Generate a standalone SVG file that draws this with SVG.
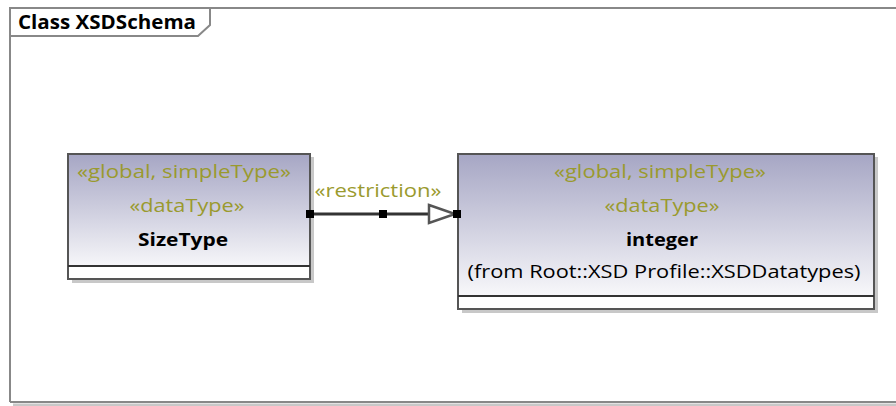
<svg xmlns="http://www.w3.org/2000/svg" width="896" height="406" viewBox="0 0 896 406">
<style>
.st{font-family:"Open Sans","Noto Sans",sans-serif;font-size:18px;fill:#9a9a2e;text-anchor:middle}
.nm{font-family:"Open Sans","Noto Sans",sans-serif;font-size:18px;font-weight:bold;fill:#000;text-anchor:middle}
.tx{font-family:"Open Sans","Noto Sans",sans-serif;font-size:18px;fill:#000;text-anchor:middle}
.box{stroke:#555;stroke-width:2}
.shadow{fill:#c8c8c8}
.h{fill:#000}
</style>
<defs>
<linearGradient id="g" x1="0" y1="0" x2="0" y2="1">
<stop offset="0" stop-color="#a6a6c4"/>
<stop offset="1" stop-color="#ffffff"/>
</linearGradient>
</defs>
<rect width="896" height="406" fill="#fff"/>
<g id="frame">
<path d="M13 405 L899 405" stroke="#c8c8c8" stroke-width="3" fill="none"/>
<path d="M10 402 L10 8 L899 8" stroke="#888" stroke-width="2" fill="none"/>
<path d="M10 402 L899 402" stroke="#888" stroke-width="2" fill="none"/>
<path d="M10 36 L198 36 L210 25 L210 8" stroke="#888" stroke-width="2" fill="none"/>
<text x="18" y="29" textLength="178" lengthAdjust="spacingAndGlyphs" style="font-family:'Open Sans','Noto Sans',sans-serif;font-size:19px;font-weight:bold;fill:#000">Class XSDSchema</text>
</g>
<g id="SizeType">
<rect class="shadow" x="72" y="157" width="242" height="126"/>
<rect class="box" x="68" y="154" width="242" height="125" fill="url(#g)"/>
<rect x="69" y="266" width="240" height="12" fill="#fff"/>
<line x1="68" y1="266" x2="310" y2="266" stroke="#333" stroke-width="2"/>
<text class="st" x="184" y="178" textLength="214" lengthAdjust="spacingAndGlyphs">«global, simpleType»</text>
<text class="st" x="187" y="212" textLength="115" lengthAdjust="spacingAndGlyphs">«dataType»</text>
<text class="nm" x="183" y="246" textLength="90" lengthAdjust="spacingAndGlyphs">SizeType</text>
</g>
<g id="integer">
<rect class="shadow" x="462" y="157" width="416" height="156"/>
<rect class="box" x="458" y="154" width="416" height="155" fill="url(#g)"/>
<rect x="459" y="296" width="414" height="12" fill="#fff"/>
<line x1="458" y1="296" x2="874" y2="296" stroke="#333" stroke-width="2"/>
<text class="st" x="660" y="178" textLength="212" lengthAdjust="spacingAndGlyphs">«global, simpleType»</text>
<text class="st" x="662" y="212" textLength="115" lengthAdjust="spacingAndGlyphs">«dataType»</text>
<text class="nm" x="662" y="246" textLength="72" lengthAdjust="spacingAndGlyphs">integer</text>
<text class="tx" x="664" y="278" textLength="393" lengthAdjust="spacingAndGlyphs">(from Root::XSD Profile::XSDDatatypes)</text>
</g>
<g id="connectors">
<line x1="310" y1="214" x2="429" y2="214" stroke="#333" stroke-width="3"/>
<polygon points="429,205 455,214 429,223" fill="#fff" stroke="#555" stroke-width="2.5"/>
<rect class="h" x="306" y="210" width="8" height="8"/>
<rect class="h" x="379" y="210" width="8" height="8"/>
<rect class="h" x="453" y="210" width="8" height="8"/>
<text class="st" x="378" y="197" textLength="127" lengthAdjust="spacingAndGlyphs">«restriction»</text>
</g>
</svg>
